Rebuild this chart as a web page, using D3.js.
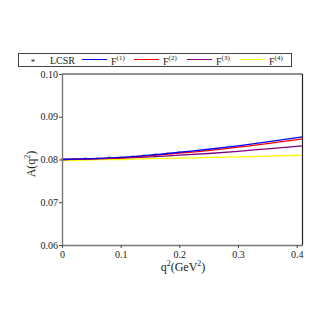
<!DOCTYPE html>
<html>
<head>
<meta charset="utf-8">
<script src="https://cdn.jsdelivr.net/npm/d3@7"></script>
<style>
  body { margin: 0; background: #fff; }
  text { font-family: "Liberation Serif", "Times New Roman", serif; fill: #222; }
</style>
</head>
<body>
<div id="plot"></div>
<script>
const W = 327, H = 327;
const LEFT = 62, RIGHT = 302.5, TOP = 74, BOTTOM = 245;

// q^2 grid for the curves
var qGrid  = [0, 0.05, 0.1, 0.15, 0.2, 0.25, 0.3, 0.35, 0.41];
var f1Vals = [0.0800, 0.0802, 0.0805, 0.0810, 0.0817, 0.0824, 0.0832, 0.0841, 0.0853];
var f2Vals = [0.0800, 0.0802, 0.0804, 0.0809, 0.0815, 0.0821, 0.0829, 0.0837, 0.0848];
var f3Vals = [0.0800, 0.0801, 0.0803, 0.0806, 0.0810, 0.0814, 0.0819, 0.0825, 0.0832];
var f4Vals = [0.0797, 0.0799, 0.0800, 0.0802, 0.0803, 0.0805, 0.0806, 0.0808, 0.0810];

// LCSR points
var lcsrQ = [0, 0.02, 0.04, 0.06, 0.08, 0.10, 0.12, 0.14, 0.16, 0.18, 0.20];
var lcsrA = [0.0800, 0.0801, 0.0802, 0.0803, 0.0804, 0.0805, 0.0807, 0.0809, 0.0811, 0.0814, 0.0816];

var xTicks = [0, 0.1, 0.2, 0.3, 0.4];
var yTicks = [0.06, 0.07, 0.08, 0.09, 0.10];

var seriesNames  = ["F(1)", "F(2)", "F(3)", "F(4)"];
var seriesColors = ["#0000ff", "#ff0000", "#800080", "#ffff00"];
var seriesVals   = [f1Vals, f2Vals, f3Vals, f4Vals];

var svg = d3.select("#plot").append("svg")
    .attr("width", W).attr("height", H);

var x = d3.scaleLinear().domain([0, 0.41]).range([LEFT, RIGHT]);
var y = d3.scaleLinear().domain([0.06, 0.10]).range([BOTTOM, TOP]);

// curves
var line = d3.line()
    .x(function(d) { return x(d[0]); })
    .y(function(d) { return y(d[1]); })
    .curve(d3.curveMonotoneX);

// draw yellow first so it sits underneath
[3, 2, 1, 0].forEach(function(i) {
    svg.append("path")
       .datum(qGrid.map(function(q, j) { return [q, seriesVals[i][j]]; }))
       .attr("fill", "none")
       .attr("stroke", seriesColors[i])
       .attr("stroke-width", 1.3)
       .attr("d", line);
});

// LCSR stars
svg.selectAll("text.star")
   .data(lcsrQ.map(function(q, j) { return [q, lcsrA[j]]; }))
   .enter()
   .append("text")
   .attr("class", "star")
   .attr("x", function(d) { return x(d[0]); })
   .attr("y", function(d) { return y(d[1]) + 2.5; })
   .attr("text-anchor", "middle")
   .style("font-size", "6px")
   .style("fill", "#333")
   .text("*");

// frame: top and right
svg.append("line").attr("x1", LEFT).attr("x2", RIGHT).attr("y1", TOP).attr("y2", TOP)
   .attr("stroke", "#222").attr("stroke-width", 1.2);
svg.append("line").attr("x1", RIGHT).attr("x2", RIGHT).attr("y1", TOP).attr("y2", BOTTOM)
   .attr("stroke", "#222").attr("stroke-width", 1.2);

// axes
var xAxis = d3.axisBottom(x).tickValues(xTicks).tickSize(3).tickSizeOuter(0)
    .tickFormat(function(d) { return d === 0 ? "0" : d3.format(".1f")(d); });
var yAxis = d3.axisLeft(y).tickValues(yTicks).tickSize(3).tickSizeOuter(0)
    .tickFormat(d3.format(".2f"));

var gx = svg.append("g").attr("transform", "translate(0," + BOTTOM + ")").call(xAxis);
var gy = svg.append("g").attr("transform", "translate(" + LEFT + ",0)").call(yAxis);
[gx, gy].forEach(function(g) {
    g.attr("font-family", null);
    g.select(".domain").attr("stroke", "#777").attr("stroke-width", 1.4);
    g.selectAll(".tick line").attr("stroke", "#444");
    g.selectAll(".tick text")
     .style("font-family", "'Liberation Serif', 'Times New Roman', serif")
     .style("font-size", "10px")
     .attr("fill", "#222");
});
gx.selectAll(".tick text").attr("y", 5).attr("dy", "0.75em");
gy.selectAll(".tick text").attr("x", -4);

// axis labels
var xl = svg.append("text")
    .attr("x", 183).attr("y", 271)
    .attr("text-anchor", "middle")
    .style("font-size", "12px");
xl.append("tspan").text("q");
xl.append("tspan").attr("dy", -5).style("font-size", "8px").text("2");
xl.append("tspan").attr("dy", 5).text("(GeV");
xl.append("tspan").attr("dy", -5).style("font-size", "8px").text("2");
xl.append("tspan").attr("dy", 5).text(")");

var yl = svg.append("text")
    .attr("transform", "translate(35,164) rotate(-90)")
    .attr("text-anchor", "middle")
    .style("font-size", "12px");
yl.append("tspan").text("A(q");
yl.append("tspan").attr("dy", -5).style("font-size", "8px").text("2");
yl.append("tspan").attr("dy", 5).text(")");

// legend
var legend = svg.append("g");
legend.append("rect")
    .attr("x", 18.5).attr("y", 53.5).attr("width", 273).attr("height", 13)
    .attr("fill", "#fff").attr("stroke", "#444").attr("stroke-width", 1);
legend.append("text").attr("x", 33).attr("y", 65).attr("text-anchor", "middle")
    .style("font-size", "9px").text("*");
legend.append("text").attr("x", 50).attr("y", 64)
    .style("font-size", "10px").text("LCSR");

var lineStarts = [82, 134, 187, 240];
seriesNames.forEach(function(name, i) {
    var lx = lineStarts[i];
    legend.append("line")
        .attr("x1", lx).attr("x2", lx + 25).attr("y1", 59.5).attr("y2", 59.5)
        .attr("stroke", seriesColors[i]).attr("stroke-width", 1);
    var t = legend.append("text").attr("x", lx + 29).attr("y", 64.5)
        .style("font-size", "10px");
    t.append("tspan").text("F");
    t.append("tspan").attr("dy", -4.5).style("font-size", "7px").text(name.slice(1));
});
</script>
</body>
</html>
